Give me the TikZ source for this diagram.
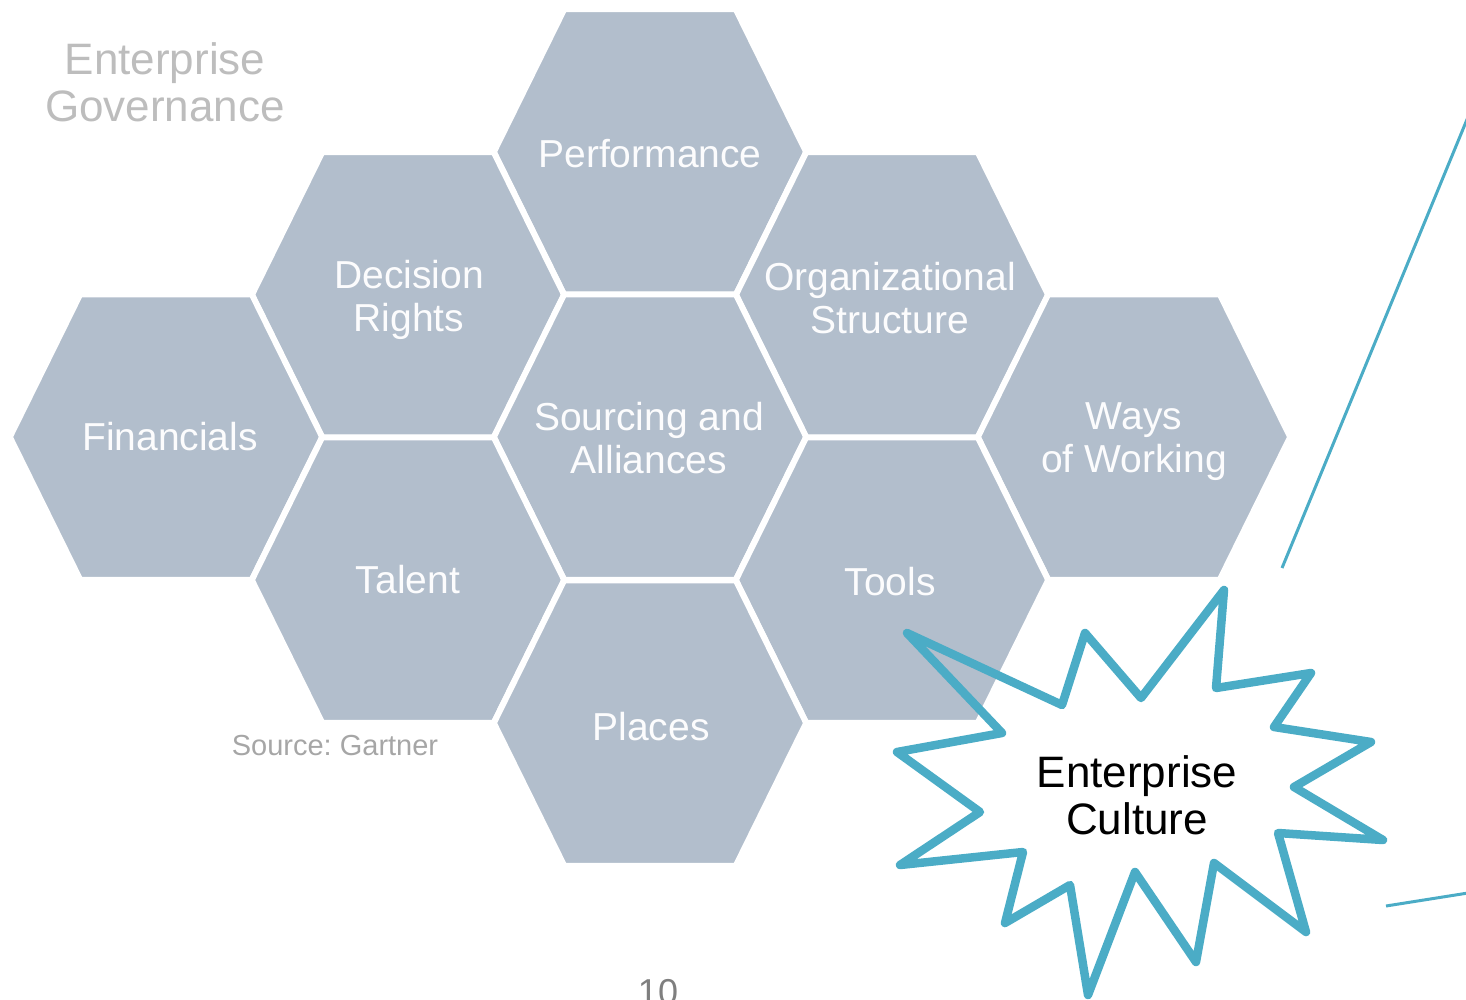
\documentclass[tikz,border=0pt]{standalone}
\usepackage{fontspec}
\setmainfont{Liberation Sans}
\frenchspacing
\definecolor{hexfill}{HTML}{B2BECC}
\definecolor{teal}{HTML}{4BACC6}
\definecolor{govgray}{HTML}{BDBDBD}
\definecolor{srcgray}{HTML}{A6A6A6}
\definecolor{pagegray}{HTML}{7F7F7F}
\newcommand\hexcellat[2]{\filldraw[hexcell,shift={(#1,#2)}] (-156.2,0) -- (-85.8,-142.75) -- (85.8,-142.75) -- (156.2,0) -- (85.8,142.75) -- (-85.8,142.75) -- cycle;}
\tikzset{
  hexcell/.style={fill=hexfill, draw=white, line width=6pt, line join=miter},
  hexlabel/.style={text=white!96!hexfill, align=center, font=\fontsize{39}{43}\selectfont, inner sep=0pt},
  startline/.style={draw=teal, line width=8.5pt, line join=round, line cap=round},
  thinline/.style={draw=teal, line width=3pt},
}
\begin{document}
\begin{tikzpicture}[x=1pt,y=-1pt]
\useasboundingbox (0,0) rectangle (1466,1000);
% hexagons
\hexcellat{650}{152}
\hexcellat{408}{295}
\hexcellat{892}{295}
\hexcellat{166}{437}
\hexcellat{650}{437}
\hexcellat{1134}{437}
\hexcellat{408}{580}
\hexcellat{892}{580}
\hexcellat{650}{723}
% labels
\node[hexlabel] (perf) at (650,154) {Performance};
\node[hexlabel] (dec) at (409,300) {Decision\\Rights};
\node[hexlabel] (org) at (890,298) {Organizational\\Structure};
\node[hexlabel] (fin) at (170,437) {Financials};
\node[hexlabel] (src) at (649,438) {Sourcing and\\Alliances};
\node[hexlabel] (ways) at (1134,442) {Ways\\of Working};
\node[hexlabel] (tal) at (408,580) {Talent};
\node[hexlabel] (tools) at (890,582) {Tools};
\node[hexlabel] (places) at (651,727) {Places};
% titles
\node[text=govgray, align=center, font=\fontsize{44}{47}\selectfont, inner sep=0pt] (gov) at (165,82) {Enterprise\\Governance};
\node[text=srcgray, font=\fontsize{29}{32}\selectfont, inner sep=0pt] (source) at (335,746) {Source: Gartner};
\node[text=pagegray, font=\fontsize{36}{40}\selectfont, inner sep=0pt, anchor=base] (page) at (658,1004) {10};
% star
\draw[startline] (907,633) -- (1062,705) -- (1085,633) -- (1141,698) -- (1224,590)
  -- (1216,688) -- (1311,673) -- (1274,727) -- (1371,742) -- (1294,787)
  -- (1383,840) -- (1278,833) -- (1306,932) -- (1214,863) -- (1196,962)
  -- (1135,872) -- (1088,995) -- (1070,885) -- (1005,923) -- (1023,852)
  -- (900,865) -- (980,812) -- (897,752) -- (1002,733) -- cycle;
\node[text=black, align=center, font=\fontsize{44}{47}\selectfont, inner sep=0pt] (culture) at (1137,795) {Enterprise\\Culture};
% teal lines
\coordinate (l1a) at (1282,568);
\coordinate (l1b) at (1468,117);
\coordinate (l2a) at (1386,906);
\coordinate (l2b) at (1468,893);
\draw[thinline] (l1a) -- (l1b);
\draw[thinline] (l2a) -- (l2b);
\end{tikzpicture}
\end{document}
